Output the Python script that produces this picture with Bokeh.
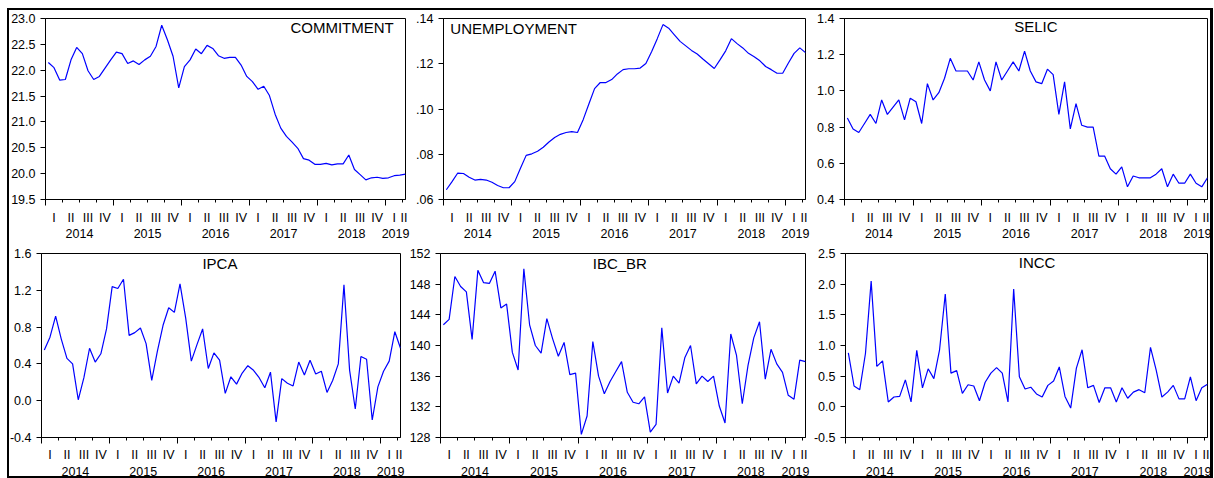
import numpy as np
from bokeh.plotting import figure
from bokeh.layouts import row, column
from bokeh.models import (LinearAxis, FixedTicker, Range1d, Label,
                          NumeralTickFormatter, CustomLabelingPolicy)
from bokeh.embed import file_html
from bokeh.resources import INLINE

# Monthly series, Jan 2014 - Apr 2019
start_year = 2014
n_months = 64

commitment = [22.15, 22.05, 21.81, 21.82, 22.20, 22.44, 22.32, 21.99, 21.82, 21.88,
              22.04, 22.20, 22.35, 22.32, 22.13, 22.18, 22.11, 22.20, 22.27, 22.46,
              22.87, 22.59, 22.27, 21.66, 22.07, 22.20, 22.41, 22.32, 22.48, 22.42,
              22.28, 22.23, 22.25, 22.25, 22.10, 21.88, 21.78, 21.63, 21.69, 21.51,
              21.15, 20.88, 20.72, 20.61, 20.49, 20.29, 20.26, 20.18, 20.18, 20.20,
              20.17, 20.19, 20.19, 20.36, 20.08, 19.98, 19.88, 19.92, 19.93, 19.91,
              19.92, 19.96, 19.97, 19.99]

unemployment = [.0643, .0679, .0717, .0715, .0698, .0686, .0689, .0686, .0676, .0662,
                .0652, .0652, .0679, .0738, .0795, .0802, .0813, .0831, .0854, .0874,
                .0888, .0896, .0900, .0896, .0953, .1022, .1090, .1117, .1117, .1130,
                .1155, .1174, .1178, .1178, .1181, .1201, .1253, .1311, .1373, .1357,
                .1328, .1299, .1279, .1259, .1243, .1221, .1200, .1179, .1217, .1257,
                .1311, .1289, .1270, .1246, .1231, .1213, .1188, .1174, .1158, .1158,
                .1203, .1246, .1270, .1249]

selic = [0.85, 0.79, 0.77, 0.82, 0.87, 0.82, 0.95, 0.87, 0.91, 0.95, 0.84, 0.96,
         0.94, 0.82, 1.04, 0.95, 0.99, 1.07, 1.18, 1.11, 1.11, 1.11, 1.06, 1.16,
         1.06, 1.00, 1.16, 1.06, 1.11, 1.16, 1.11, 1.22, 1.11, 1.05, 1.04, 1.12,
         1.09, 0.87, 1.05, 0.79, 0.93, 0.81, 0.80, 0.80, 0.64, 0.64, 0.57, 0.54,
         0.58, 0.47, 0.53, 0.52, 0.52, 0.52, 0.54, 0.57, 0.47, 0.54, 0.49, 0.49,
         0.54, 0.49, 0.47, 0.52]

ipca = [0.55, 0.69, 0.92, 0.67, 0.46, 0.40, 0.01, 0.25, 0.57, 0.42, 0.51, 0.78,
        1.24, 1.22, 1.32, 0.71, 0.74, 0.79, 0.62, 0.22, 0.54, 0.82, 1.01, 0.96,
        1.27, 0.90, 0.43, 0.61, 0.78, 0.35, 0.52, 0.44, 0.08, 0.26, 0.18, 0.30,
        0.38, 0.33, 0.25, 0.14, 0.31, -0.23, 0.24, 0.19, 0.16, 0.42, 0.28, 0.44,
        0.29, 0.32, 0.09, 0.22, 0.40, 1.26, 0.33, -0.09, 0.48, 0.45, -0.21, 0.15,
        0.32, 0.43, 0.75, 0.57]

ibc_br = [142.7, 143.4, 149.0, 147.7, 147.0, 140.8, 149.8, 148.2, 148.1, 149.7,
          144.9, 145.4, 139.1, 136.8, 150.0, 142.7, 140.0, 139.0, 143.5, 140.9,
          138.6, 140.4, 136.2, 136.4, 128.4, 130.8, 140.5, 136.0, 133.7, 135.3,
          136.6, 137.9, 133.9, 132.6, 132.4, 133.3, 128.7, 129.7, 142.3, 133.8,
          136.0, 135.1, 138.4, 140.0, 135.0, 136.0, 135.3, 136.0, 132.1, 129.9,
          141.5, 138.7, 132.4, 137.4, 141.0, 143.1, 135.6, 139.5, 137.6, 136.5,
          133.5, 133.0, 138.1, 137.9]

incc = [0.88, 0.34, 0.28, 0.87, 2.05, 0.66, 0.75, 0.08, 0.16, 0.17, 0.44, 0.08,
        0.92, 0.31, 0.62, 0.46, 0.93, 1.84, 0.55, 0.59, 0.22, 0.36, 0.34, 0.10,
        0.40, 0.55, 0.64, 0.55, 0.08, 1.92, 0.49, 0.29, 0.32, 0.21, 0.16, 0.35,
        0.42, 0.65, 0.17, -0.02, 0.63, 0.93, 0.31, 0.35, 0.07, 0.31, 0.31, 0.08,
        0.31, 0.14, 0.24, 0.28, 0.23, 0.97, 0.60, 0.16, 0.24, 0.35, 0.13, 0.13,
        0.49, 0.10, 0.31, 0.37]

quarter_names = ["I", "II", "III", "IV"]
years = list(range(2014, 2020))

# time axis: points sit at month centres; axis ends at the last point
months = start_year + (np.arange(n_months) + 0.5) / 12.0
x_start = float(start_year)
x_end = float(months[-1])

FONT = "Liberation Sans"
TICK_SIZE = "12.5px"
TITLE_SIZE = "15px"

# quarter boundaries, quarter-label positions and year-label positions
quarter_edges = []
quarter_pos = {}
year_pos = {}
for y in years:
    for q in range(4):
        a = y + q * 0.25
        if a >= x_end:
            continue
        b = min(a + 0.25, x_end)
        if q > 0:
            quarter_edges.append(a)
        quarter_pos[(a + b) / 2.0] = quarter_names[q]
    ya, yb = float(y), min(y + 1.0, x_end)
    year_pos[(ya + yb) / 2.0] = str(y)


def label_axis(positions, standoff):
    ax = LinearAxis(ticker=FixedTicker(ticks=list(positions.keys()), minor_ticks=[]))
    ax.major_label_overrides = positions
    ax.major_tick_out = 0
    ax.major_tick_in = 0
    ax.minor_tick_out = 0
    ax.axis_line_color = None
    ax.major_tick_line_color = None
    ax.major_label_standoff = standoff
    ax.major_label_text_font = FONT
    ax.major_label_text_font_size = TICK_SIZE
    ax.major_label_text_color = "black"
    return ax


def panel(values, title, ylo, yhi, yticks, yfmt, width, height,
          left, right, top, bottom, title_x, title_y, title_align,
          q_standoff, y_standoff):
    p = figure(width=width, height=height,
               x_range=Range1d(x_start, x_end), y_range=Range1d(ylo, yhi),
               x_axis_type=None, y_axis_type=None,
               toolbar_location=None, output_backend="svg",
               min_border_left=left, min_border_right=right,
               min_border_top=top, min_border_bottom=bottom,
               background_fill_color=None, border_fill_color=None,
               outline_line_color="black", outline_line_width=1)

    # y axis
    ya = LinearAxis(ticker=FixedTicker(ticks=yticks, minor_ticks=[]))
    if isinstance(yfmt, dict):
        ya.major_label_overrides = yfmt
    else:
        ya.formatter = NumeralTickFormatter(format=yfmt)
    ya.major_tick_out = 5
    ya.major_tick_in = 0
    ya.minor_tick_out = 0
    ya.major_label_standoff = 5
    ya.major_label_text_font = FONT
    ya.major_label_text_font_size = TICK_SIZE
    ya.major_label_text_color = "black"
    ya.axis_line_color = "black"
    ya.major_tick_line_color = "black"
    p.add_layout(ya, "left")

    # tick marks only: long at years, short at quarters
    xt = LinearAxis(ticker=FixedTicker(ticks=[float(y) for y in years if y < x_end],
                                       minor_ticks=quarter_edges))
    xt.major_tick_out = 6
    xt.major_tick_in = 0
    xt.minor_tick_out = 3
    xt.minor_tick_in = 0
    xt.major_label_text_font_size = "0px"
    xt.major_label_standoff = 0
    xt.major_label_policy = CustomLabelingPolicy(code="return []")
    xt.axis_line_color = "black"
    xt.major_tick_line_color = "black"
    xt.minor_tick_line_color = "black"
    p.add_layout(xt, "below")

    p.add_layout(label_axis(quarter_pos, q_standoff), "below")
    p.add_layout(label_axis(year_pos, y_standoff), "below")

    p.line(months, values, line_color="#0000FF", line_width=1.2)

    p.add_layout(Label(x=title_x, y=title_y, text=title, text_font=FONT,
                       text_font_size=TITLE_SIZE, text_color="black",
                       text_align=title_align, text_baseline="middle"))
    return p


TOP_H, BOT_H = 243, 235

f1 = panel(commitment, "COMMITMENT", 19.5, 23.0,
           [19.5, 20.0, 20.5, 21.0, 21.5, 22.0, 22.5, 23.0], "0.0",
           410, TOP_H, 45, 5, 15, 44, 2018.36, 22.818, "center", 5, 1)
f2 = panel(unemployment, "UNEMPLOYMENT", 0.06, 0.14,
           [0.06, 0.08, 0.10, 0.12, 0.14],
           {0.06: ".06", 0.08: ".08", 0.10: ".10", 0.12: ".12", 0.14: ".14"},
           400, TOP_H, 33, 5, 16, 42, 2014.10, 0.1358, "left", 5, 1)
f3 = panel(selic, "SELIC", 0.4, 1.4,
           [0.4, 0.6, 0.8, 1.0, 1.2, 1.4], "0.0",
           404, TOP_H, 34, 7, 18, 40, 2016.79, 1.355, "center", 5, 1)
f4 = panel(ipca, "IPCA", -0.4, 1.6,
           [-0.4, 0.0, 0.4, 0.8, 1.2, 1.6], "0.0",
           405, BOT_H, 41, 5, 9, 41, 2016.63, 1.486, "center", 4, 2)
f5 = panel(ibc_br, "IBC_BR", 128, 152,
           [128, 132, 136, 140, 144, 148, 152], "0",
           405, BOT_H, 35, 5, 10, 40, 2016.60, 150.66, "center", 4, 2)
f6 = panel(incc, "INCC", -0.5, 2.5,
           [-0.5, 0.0, 0.5, 1.0, 1.5, 2.0, 2.5], "0.0",
           404, BOT_H, 35, 7, 10, 40, 2016.80, 2.358, "center", 4, 2)

# page frame drawn as four thin bars behind the transparent figures
frame_css = {
    "background-color": "white",
    "background-image": ", ".join(["linear-gradient(#000, #000)"] * 4),
    "background-position": "7px 8px, 7px 476px, 7px 8px, 1210px 8px",
    "background-size": "1206px 2px, 1206px 2px, 2px 470px, 3px 470px",
    "background-repeat": "no-repeat",
}

layout = column(row(f1, f2, f3, spacing=0), row(f4, f5, f6, spacing=0),
                spacing=0, styles=frame_css)

open("out.html", "w").write(file_html(layout, INLINE))
